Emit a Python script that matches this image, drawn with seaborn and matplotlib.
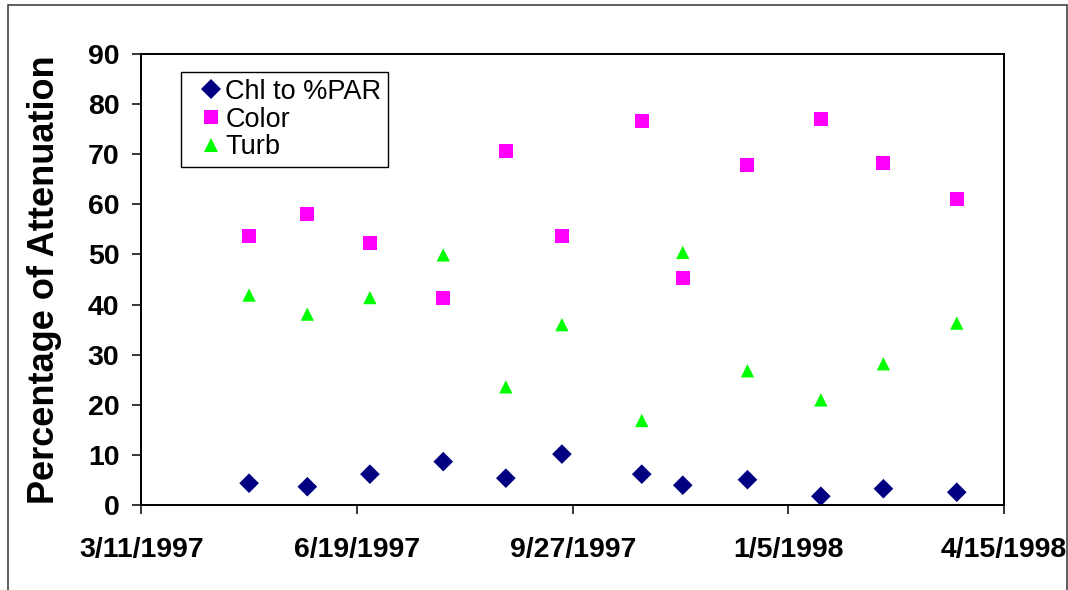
import matplotlib
matplotlib.use("Agg")
import matplotlib.pyplot as plt
import pandas as pd
import seaborn as sns
from matplotlib.patches import Rectangle

# Sampling dates and attenuation contributions (%)
dates = ["1997-04-30", "1997-05-27", "1997-06-25", "1997-07-29", "1997-08-27",
         "1997-09-22", "1997-10-29", "1997-11-17", "1997-12-17", "1998-01-20",
         "1998-02-18", "1998-03-24"]
chl = [4.4, 3.7, 6.2, 8.7, 5.4, 10.2, 6.2, 4.0, 5.1, 1.8, 3.3, 2.6]
color = [53.7, 58.0, 52.2, 41.3, 70.7, 53.7, 76.6, 45.3, 67.9, 77.0, 68.2, 61.0]
turb = [41.9, 38.1, 41.4, 49.9, 23.6, 36.0, 16.9, 50.4, 26.8, 21.0, 28.2, 36.3]

series_names = ["Chl to %PAR", "Color", "Turb"]
tick_dates = ["1997-03-11", "1997-06-19", "1997-09-27", "1998-01-05", "1998-04-15"]
tick_labels = ["3/11/1997", "6/19/1997", "9/27/1997", "1/5/1998", "4/15/1998"]
y_ticks = [0, 10, 20, 30, 40, 50, 60, 70, 80, 90]

df = pd.DataFrame({"date": pd.to_datetime(dates),
                   "Chl to %PAR": chl, "Color": color, "Turb": turb})
long = df.melt(id_vars="date", value_vars=series_names,
               var_name="series", value_name="pct")

sns.set_style("white")
plt.rcParams["font.family"] = ["Liberation Sans", "DejaVu Sans"]
plt.rcParams["text.color"] = "black"
plt.rcParams["axes.labelcolor"] = "black"
plt.rcParams["xtick.color"] = "black"
plt.rcParams["ytick.color"] = "black"

fig = plt.figure(figsize=(10.68, 5.90), dpi=100)
ax = fig.add_axes([0.1322, 0.1436, 0.9403 - 0.1322, 0.909 - 0.1436])

palette = {"Chl to %PAR": "#000080", "Color": "#FF00FF", "Turb": "#00FF00"}
markers = {"Chl to %PAR": "D", "Color": "s", "Turb": "^"}
sizes = {"Chl to %PAR": 100, "Color": 102, "Turb": 92}

sns.scatterplot(data=long, x="date", y="pct", hue="series", style="series",
                size="series", hue_order=series_names, style_order=series_names,
                size_order=series_names, palette=palette, markers=markers,
                sizes=sizes, linewidth=0, ax=ax)

ax.set_xlim(pd.Timestamp(tick_dates[0]), pd.Timestamp(tick_dates[-1]))
ax.set_ylim(0, 90)
ax.set_xticks(pd.to_datetime(tick_dates))
ax.set_xticklabels(tick_labels, fontsize=20.5, fontweight="bold")
ax.set_yticks(y_ticks)
ax.set_yticklabels([str(v) for v in y_ticks], fontsize=20.5, fontweight="bold")
ax.tick_params(axis="y", direction="out", length=6.7, width=1.1, color="black",
               pad=9, left=True)
ax.tick_params(axis="x", direction="out", length=6.5, width=1.1, color="black",
               pad=16, bottom=True)

for side in ["left", "bottom", "top", "right"]:
    ax.spines[side].set_color("black")
    ax.spines[side].set_linewidth(1.4)

ax.set_xlabel("")
ax.set_ylabel("Percentage of Attenuation", fontsize=26, fontweight="bold",
              va="center")
ax.yaxis.set_label_coords(-0.1126, 0.5)

handles, labels = ax.get_legend_handles_labels()
leg = ax.legend(handles, labels, loc="upper left", bbox_to_anchor=(0.0467, 0.959),
                borderaxespad=0, frameon=True, fancybox=False, shadow=False,
                edgecolor="black", framealpha=1, fontsize=19.5,
                borderpad=0.25, handlelength=1.67, handletextpad=-0.3,
                labelspacing=0.06)
leg.get_frame().set_linewidth(1.0)
legend_marker_sizes = {"Chl to %PAR": 10.0, "Color": 10.5, "Turb": 9.5}
for h, lab in zip(leg.legend_handles, labels):
    if lab in legend_marker_sizes:
        h.set_markersize(legend_marker_sizes[lab])

# Outer chart-area border
fig.patches.append(Rectangle((7.6 / 1068, -0.05), (1066.7 - 7.6) / 1068,
                             0.05 + 1 - 5 / 590, transform=fig.transFigure,
                             fill=False, edgecolor="#333333", linewidth=1.1,
                             clip_on=False))

fig.savefig("out.png", dpi=100)
